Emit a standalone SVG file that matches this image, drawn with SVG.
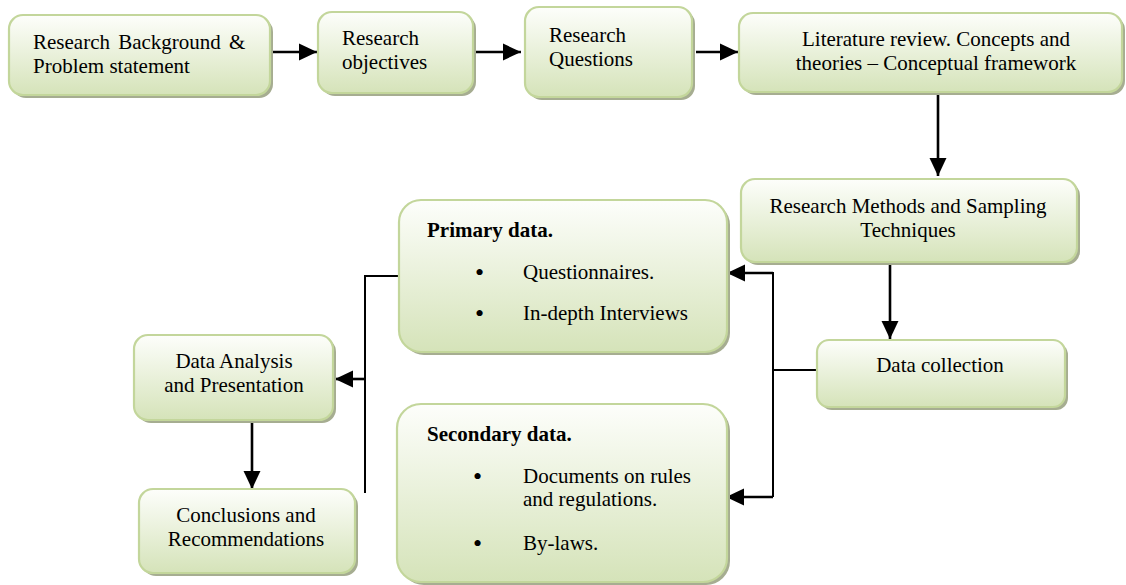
<svg xmlns="http://www.w3.org/2000/svg" width="1126" height="585" viewBox="0 0 1126 585">
  <defs>
    <linearGradient id="g" x1="0" y1="0" x2="0" y2="1">
      <stop offset="0" stop-color="#fdfefb"/>
      <stop offset="1" stop-color="#d5e3b9"/>
    </linearGradient>
    <marker id="ah" markerUnits="userSpaceOnUse" markerWidth="18" markerHeight="18" viewBox="0 0 17 16" refX="17" refY="8" orient="auto">
      <path d="M0,0 L17,8 L0,16 Z" fill="#000"/>
    </marker>
  </defs>
  <style>
    .sh { fill: #a6ad91; }
    .bx { fill: url(#g); stroke: #c3d69b; stroke-width: 2.2; }
    text { font-family: 'Liberation Serif', 'DejaVu Serif', serif; font-size: 21px; fill: #000; }
    .c { text-anchor: middle; }
    .b { font-weight: bold; }
    .bl { font-size: 26px; }
    .arr { stroke: #000; stroke-width: 2.6; fill: none; marker-end: url(#ah); }
    .ln { stroke: #000; stroke-width: 2; fill: none; }
  </style>
  <rect width="1126" height="585" fill="#fff"/>

  <g id="connectors">
    <line class="arr" x1="270" y1="52" x2="317" y2="52"/>
    <line class="arr" x1="475" y1="52" x2="521" y2="52"/>
    <line class="arr" x1="696" y1="52" x2="738" y2="52"/>
    <line class="arr" x1="938" y1="94" x2="938" y2="176"/>
    <line class="arr" x1="890" y1="264" x2="890" y2="339"/>
    <polyline class="ln" points="817,370 773,370"/>
    <polyline class="ln" points="773,272 773,497"/>
    <line class="arr" x1="773" y1="273" x2="727" y2="273"/>
    <line class="arr" x1="773" y1="497" x2="726" y2="497"/>
    <polyline class="ln" points="399,276 365,276 365,493"/>
    <line class="arr" x1="365" y1="379" x2="335" y2="379"/>
    <line class="arr" x1="252" y1="421" x2="252" y2="489"/>
  </g>

  <g id="n1">
    <rect class="sh" x="12" y="18" width="261" height="80" rx="14"/>
    <rect class="bx" x="9" y="15" width="261" height="80" rx="14"/>
    <text x="33" y="49" word-spacing="3">Research Background &amp;</text>
    <text x="33" y="73">Problem statement</text>
  </g>
  <g id="n2">
    <rect class="sh" x="321" y="15" width="155" height="81" rx="14"/>
    <rect class="bx" x="318" y="12" width="155" height="81" rx="14"/>
    <text x="342" y="45">Research</text>
    <text x="342" y="69">objectives</text>
  </g>
  <g id="n3">
    <rect class="sh" x="528" y="10" width="167" height="90" rx="14"/>
    <rect class="bx" x="525" y="7" width="167" height="90" rx="14"/>
    <text x="549" y="42">Research</text>
    <text x="549" y="66">Questions</text>
  </g>
  <g id="n4">
    <rect class="sh" x="742" y="16" width="383" height="79" rx="14"/>
    <rect class="bx" x="739" y="13" width="383" height="79" rx="14"/>
    <text class="c" x="936" y="46">Literature review. Concepts and</text>
    <text class="c" x="936" y="70">theories – Conceptual framework</text>
  </g>
  <g id="n5">
    <rect class="sh" x="744" y="182" width="336" height="83" rx="14"/>
    <rect class="bx" x="741" y="179" width="336" height="83" rx="14"/>
    <text class="c" x="908" y="213">Research Methods and Sampling</text>
    <text class="c" x="908" y="237">Techniques</text>
  </g>
  <g id="n6">
    <rect class="sh" x="820" y="343" width="248" height="67" rx="12"/>
    <rect class="bx" x="817" y="340" width="248" height="67" rx="12"/>
    <text class="c" x="940" y="372">Data collection</text>
  </g>
  <g id="n7">
    <rect class="sh" x="402" y="203" width="328" height="152" rx="22"/>
    <rect class="bx" x="399" y="200" width="328" height="152" rx="22"/>
    <text class="b" x="427" y="237">Primary data.</text>
    <text class="bl" x="475" y="281">•</text>
    <text x="523" y="279">Questionnaires.</text>
    <text class="bl" x="475" y="322">•</text>
    <text x="523" y="320">In-depth Interviews</text>
  </g>
  <g id="n8">
    <rect class="sh" x="137" y="338" width="199" height="85" rx="14"/>
    <rect class="bx" x="134" y="335" width="199" height="85" rx="14"/>
    <text class="c" x="234" y="368">Data Analysis</text>
    <text class="c" x="234" y="392">and Presentation</text>
  </g>
  <g id="n9">
    <rect class="sh" x="142" y="492" width="216" height="84" rx="14"/>
    <rect class="bx" x="139" y="489" width="216" height="84" rx="14"/>
    <text class="c" x="246" y="522">Conclusions and</text>
    <text class="c" x="246" y="546">Recommendations</text>
  </g>
  <g id="n10">
    <rect class="sh" x="400" y="407" width="330" height="178" rx="24"/>
    <rect class="bx" x="397" y="404" width="330" height="178" rx="24"/>
    <text class="b" x="427" y="441">Secondary data.</text>
    <text class="bl" x="473" y="485">•</text>
    <text x="523" y="483">Documents on rules</text>
    <text x="523" y="506">and regulations.</text>
    <text class="bl" x="473" y="552">•</text>
    <text x="523" y="550">By-laws.</text>
  </g>
</svg>
